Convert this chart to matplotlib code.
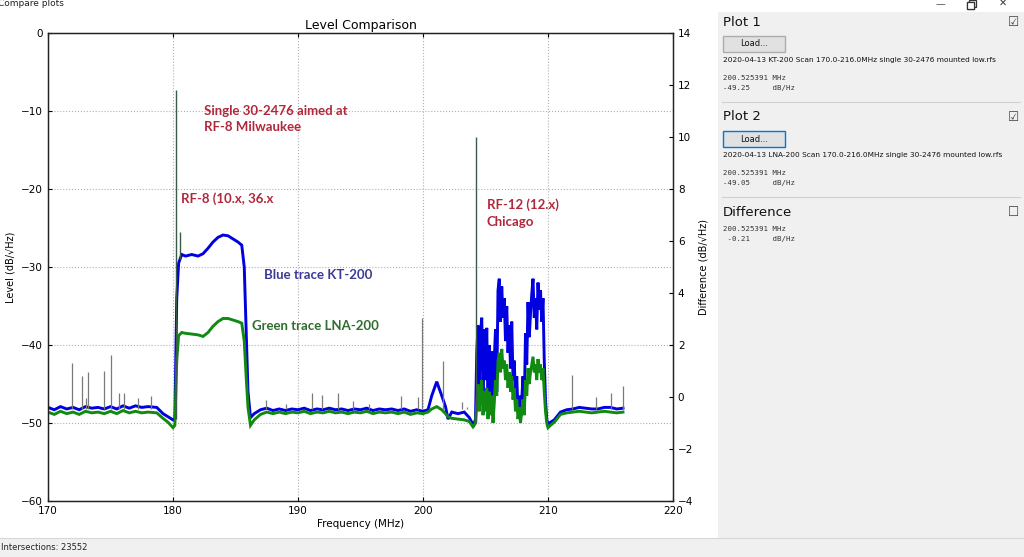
import numpy as np
import matplotlib
matplotlib.use('Agg')
import matplotlib.pyplot as plt
from matplotlib.patches import Rectangle
from matplotlib.lines import Line2D

# Blue trace (KT-200), frequency in MHz and level in dB/sqrt(Hz)
blueFreq = [170.0, 170.5, 171.0, 171.5, 172.0, 172.5, 173.0, 173.5, 174.0, 174.5, 175.0, 175.5,
            176.0, 176.5, 177.0, 177.5, 178.0, 178.7, 179.2, 179.6, 180.0, 180.15,
            180.3, 180.45, 180.7, 181.0, 181.5, 182.0, 182.4, 182.8, 183.2, 183.6, 184.0, 184.4,
            184.8, 185.2, 185.5, 185.7, 185.85, 186.0, 186.2, 186.5, 187.0, 187.5, 188.0, 188.5,
            189.0, 189.5, 190.0, 190.5, 191.0, 191.5, 192.0, 192.5, 193.0, 193.5, 194.0, 194.5,
            195.0, 195.5, 196.0, 196.5, 197.0, 197.5, 198.0, 198.5, 199.0, 199.5, 200.0, 200.4,
            200.7, 201.1, 201.5, 201.8, 202.0, 202.3, 202.8, 203.3, 203.7, 204.0, 204.1,
            204.2, 204.3, 204.4, 204.5, 204.6, 204.7, 204.8, 204.9, 205.0, 205.1, 205.2, 205.3,
            205.4, 205.5, 205.6, 205.7, 205.8, 205.9, 206.0, 206.1, 206.2, 206.3, 206.4, 206.5,
            206.6, 206.7, 206.8, 206.9, 207.0, 207.1, 207.2, 207.3, 207.4, 207.5, 207.6, 207.7,
            207.8, 207.9, 208.0, 208.1, 208.2, 208.3, 208.4, 208.5, 208.6, 208.7, 208.8, 208.9,
            209.0, 209.1, 209.2, 209.3, 209.4, 209.5, 209.6, 209.7, 209.8, 209.9, 210.0,
            210.2, 210.5, 211.0, 211.5, 212.0, 212.5, 213.0, 213.5, 214.0, 214.5, 215.0, 215.5, 216.0]
blueLevel = [-48.0, -48.3, -47.9, -48.2, -48.0, -48.3, -47.9, -48.1, -48.0, -48.2, -47.9, -48.2,
             -47.8, -48.1, -47.8, -48.0, -47.9, -48.0, -48.8, -49.2, -49.6, -49.4,
             -34.0, -29.5, -28.4, -28.6, -28.4, -28.6, -28.3, -27.6, -26.8, -26.2, -25.9, -26.0,
             -26.4, -26.8, -27.2, -30.0, -38.0, -46.0, -49.3, -48.8, -48.3, -48.1, -48.4, -48.2,
             -48.4, -48.2, -48.3, -48.1, -48.4, -48.2, -48.3, -48.1, -48.3, -48.2, -48.4, -48.2,
             -48.3, -48.1, -48.4, -48.2, -48.3, -48.2, -48.4, -48.2, -48.5, -48.3, -48.5, -48.3,
             -46.5, -44.7, -46.5, -47.9, -49.5, -48.6, -48.8, -48.6, -49.3, -50.2, -50.0,
             -49.5, -41.0, -37.5, -45.5, -38.5, -36.5, -46.0, -38.0, -44.5, -37.8, -47.0, -40.0,
             -46.5, -40.8, -48.5, -42.0, -38.0, -46.0, -33.0, -31.5, -37.0, -32.5, -36.5, -34.0,
             -39.5, -35.0, -41.0, -37.5, -43.0, -37.0, -44.5, -42.0, -47.0, -44.0, -48.5, -46.5,
             -49.5, -47.0, -44.0, -48.0, -38.5, -42.5, -34.5, -39.0, -36.0, -33.5, -31.5, -36.5,
             -34.0, -38.0, -32.0, -35.5, -33.0, -37.0, -34.0, -42.0, -47.0, -49.5, -50.2,
             -49.9, -49.6, -48.6, -48.3, -48.2, -48.0, -48.1, -48.2, -48.2, -48.0, -48.0, -48.2, -48.1]

# Green trace (LNA-200), same frequency grid
greenFreq = blueFreq
greenLevel = [-48.6, -48.9, -48.5, -48.8, -48.6, -48.9, -48.5, -48.7, -48.6, -48.8, -48.5, -48.8,
              -48.4, -48.7, -48.5, -48.7, -48.6, -48.7, -49.4, -49.9, -50.6, -50.3,
              -42.0, -38.8, -38.4, -38.5, -38.6, -38.7, -38.9, -38.4, -37.6, -37.0, -36.6, -36.6,
              -36.8, -37.0, -37.2, -39.5, -44.0, -48.0, -50.3, -49.6, -48.9, -48.6, -48.8, -48.6,
              -48.8, -48.6, -48.7, -48.5, -48.8, -48.6, -48.7, -48.5, -48.7, -48.6, -48.8, -48.6,
              -48.7, -48.5, -48.8, -48.6, -48.7, -48.6, -48.8, -48.6, -48.9, -48.7, -48.8, -48.6,
              -48.2, -47.9, -48.3, -48.8, -49.2, -49.4, -49.5, -49.6, -49.8, -50.5, -50.3,
              -50.0, -47.5, -45.0, -48.5, -46.0, -44.5, -49.0, -46.0, -48.5, -45.5, -49.5, -46.0,
              -49.0, -46.5, -50.0, -47.5, -44.5, -46.5, -42.0, -41.0, -43.5, -40.5, -43.0, -42.0,
              -44.5, -42.5, -45.5, -43.5, -46.0, -44.0, -47.0, -45.5, -48.5, -47.0, -49.5, -48.0,
              -50.0, -48.5, -47.0, -49.0, -44.5, -46.5, -43.0, -45.0, -43.5, -42.5, -41.5, -43.5,
              -42.5, -44.5, -41.8, -43.5, -42.5, -44.5, -43.0, -46.0, -48.5, -50.0, -50.6,
              -50.3, -49.9, -48.9, -48.7, -48.6, -48.5, -48.6, -48.7, -48.6, -48.5, -48.6, -48.7, -48.6]

# Narrow spikes: frequency and top level (they start on the noise floor)
spikeFreq = [171.95, 172.7, 173.0, 173.2, 174.45, 175.0, 175.7, 176.1, 177.2, 178.2,
             187.4, 189.0, 191.1, 191.9, 193.2, 194.4, 195.7, 198.2, 199.6, 199.95,
             201.6, 203.1, 203.5, 211.9, 213.8, 215.0, 216.0]
spikeTop = [-42.3, -44.0, -46.8, -43.4, -43.3, -41.3, -46.1, -46.2, -46.8, -46.5,
            -47.0, -47.6, -46.1, -46.4, -46.1, -47.2, -47.5, -46.5, -46.7, -36.5,
            -42.0, -47.3, -47.9, -43.8, -46.7, -46.1, -45.3]
bigSpikeFreq = [180.24, 180.56, 204.24]
bigSpikeBase = [-49.5, -29.0, -50.0]
bigSpikeTop = [-7.3, -25.5, -13.3]

xTicks = [170, 180, 190, 200, 210, 220]
yTicks = [-60, -50, -40, -30, -20, -10, 0]
diffTicks = [-4, -2, 0, 2, 4, 6, 8, 10, 12, 14]

W, H = 1024, 557

def fx(x):
	return x / W

def fy(y):
	return 1 - y / H

def box(x, y, w, h, face, edge, lw=1.0):
	# rectangle given in screen pixels (top-left corner)
	fig.add_artist(Rectangle((fx(x), fy(y + h)), fx(w), fy(0) - fy(h), transform=fig.transFigure,
	                         facecolor=face, edgecolor=edge, lw=lw))

fig = plt.figure(figsize=(W / 100, H / 100), dpi=100, facecolor='w')

# Right hand side panel and status bar
panelGray = '#f0f0f0'
box(718, 12, 306, 526, panelGray, 'none')
box(0, 538, 1024, 19, panelGray, 'none')
fig.add_artist(Line2D([0, 1], [fy(538), fy(538)], transform=fig.transFigure, color='#d8d8d8', lw=0.8))
fig.text(fx(1), fy(547), 'Intersections: 23552', fontsize=6, va='center', ha='left', color='#222222')

# window title and buttons
fig.text(fx(-2), fy(4), 'Compare plots', fontsize=6.5, va='center', ha='left', color='#222222')
fig.text(fx(940), fy(4), '\u2014', fontsize=7, va='center', ha='center', color='#555555')
box(967, 2, 7, 7, 'w', '#333333', 0.9)
box(969, 0, 7, 7, 'none', '#333333', 0.9)
box(967, 2, 7, 7, 'w', '#333333', 0.9)
fig.text(fx(1003), fy(3), '\u2715', fontsize=7, va='center', ha='center', color='#333333')

mono = 'DejaVu Sans Mono'
sections = [
	('Plot 1', 22, '#adadad', '2020-04-13 KT-200 Scan 170.0-216.0MHz single 30-2476 mounted low.rfs', '-49.25'),
	('Plot 2', 117, '#0078d7', '2020-04-13 LNA-200 Scan 170.0-216.0MHz single 30-2476 mounted low.rfs', '-49.05'),
]
for name, y0, edge, fname, level in sections:
	fig.text(fx(723), fy(y0), name, fontsize=9.5, va='center', ha='left', color='#111111')
	fig.text(fx(1014), fy(y0), '\u2611', fontsize=9, va='center', ha='center', color='#444444')
	box(723, y0 + 14, 62, 16, '#e1e1e1', edge)
	fig.text(fx(754), fy(y0 + 22), 'Load...', fontsize=6, va='center', ha='center', color='#111111')
	fig.text(fx(723), fy(y0 + 38), fname, fontsize=5.3, va='center', ha='left', color='#111111')
	fig.text(fx(723), fy(y0 + 56), '200.525391 MHz', fontsize=5.3, va='center', ha='left',
	         color='#333333', family=mono)
	fig.text(fx(723), fy(y0 + 66), '%-10s dB/Hz' % level, fontsize=5.3, va='center', ha='left',
	         color='#333333', family=mono)
	fig.add_artist(Line2D([fx(722), fx(1020)], [fy(y0 + 80), fy(y0 + 80)], transform=fig.transFigure,
	                      color='#d0d0d0', lw=0.8))

fig.text(fx(723), fy(212), 'Difference', fontsize=9.5, va='center', ha='left', color='#111111')
fig.text(fx(1014), fy(212), '\u2610', fontsize=9, va='center', ha='center', color='#444444')
fig.text(fx(723), fy(229), '200.525391 MHz', fontsize=5.3, va='center', ha='left', color='#333333', family=mono)
fig.text(fx(723), fy(239), ' -0.21     dB/Hz', fontsize=5.3, va='center', ha='left', color='#333333', family=mono)

# Main plot
ax = fig.add_axes([fx(48), fy(501), fx(673) - fx(48), fy(33) - fy(501)])
ax.plot(blueFreq, blueLevel, color='#0000e0', lw=2.1, solid_joinstyle='miter', zorder=3)
ax.plot(greenFreq, greenLevel, color='#108a10', lw=2.1, solid_joinstyle='miter', zorder=4)
ax.vlines(spikeFreq, -48.2, spikeTop, color='#7a7a7a', lw=0.9, zorder=5)
ax.vlines(bigSpikeFreq, bigSpikeBase, bigSpikeTop, color='#3c5a4a', lw=1.0, zorder=5)

ax.set_xlim(170, 220)
ax.set_ylim(-60, 0)
ax.set_xticks(xTicks)
ax.set_yticks(yTicks)
ax.grid(True, color='#b0b0b0', linestyle=':', lw=0.8)
ax.tick_params(direction='in', labelsize=7.5, length=3, top=True)
ax.set_title('Level Comparison', fontsize=9, pad=3)
ax.set_xlabel('Frequency (MHz)', fontsize=7.5, labelpad=2)
ax.set_ylabel('Level (dB/\u221aHz)', fontsize=7, labelpad=4)

ax2 = ax.twinx()
ax2.set_ylim(-4, 14)
ax2.set_yticks(diffTicks)
ax2.tick_params(direction='in', labelsize=7.5, length=3)
ax2.set_ylabel('Difference (dB/\u221aHz)', fontsize=7, labelpad=4)

for a in (ax, ax2):
	for s in a.spines.values():
		s.set_color('#222222')
		s.set_linewidth(0.9)

# Annotations written on the screenshot
red = '#b0283c'
annoFont = ['Lato', 'DejaVu Sans']
ax.text(182.45, -9.2, 'Single 30-2476 aimed at\nRF-8 Milwaukee', color=red, fontsize=9.5,
        fontweight='bold', family=annoFont, va='top', ha='left', linespacing=1.45, zorder=6)
ax.text(180.65, -21.2, 'RF-8 (10.x, 36.x', color=red, fontsize=9.5, fontweight='bold',
        family=annoFont, va='center', ha='left', zorder=6)
ax.text(205.1, -21.2, 'RF-12 (12.x)\nChicago', color=red, fontsize=9.5, fontweight='bold',
        family=annoFont, va='top', ha='left', linespacing=1.45, zorder=6)
ax.text(187.3, -31.0, 'Blue trace KT-200', color='#3a3a96', fontsize=9.5, fontweight='bold',
        family=annoFont, va='center', ha='left', zorder=6)
ax.text(186.3, -37.6, 'Green trace LNA-200', color='#2e6e2e', fontsize=9.5, fontweight='bold',
        family=annoFont, va='center', ha='left', zorder=6)

fig.savefig('out.png', dpi=100, facecolor='w')
